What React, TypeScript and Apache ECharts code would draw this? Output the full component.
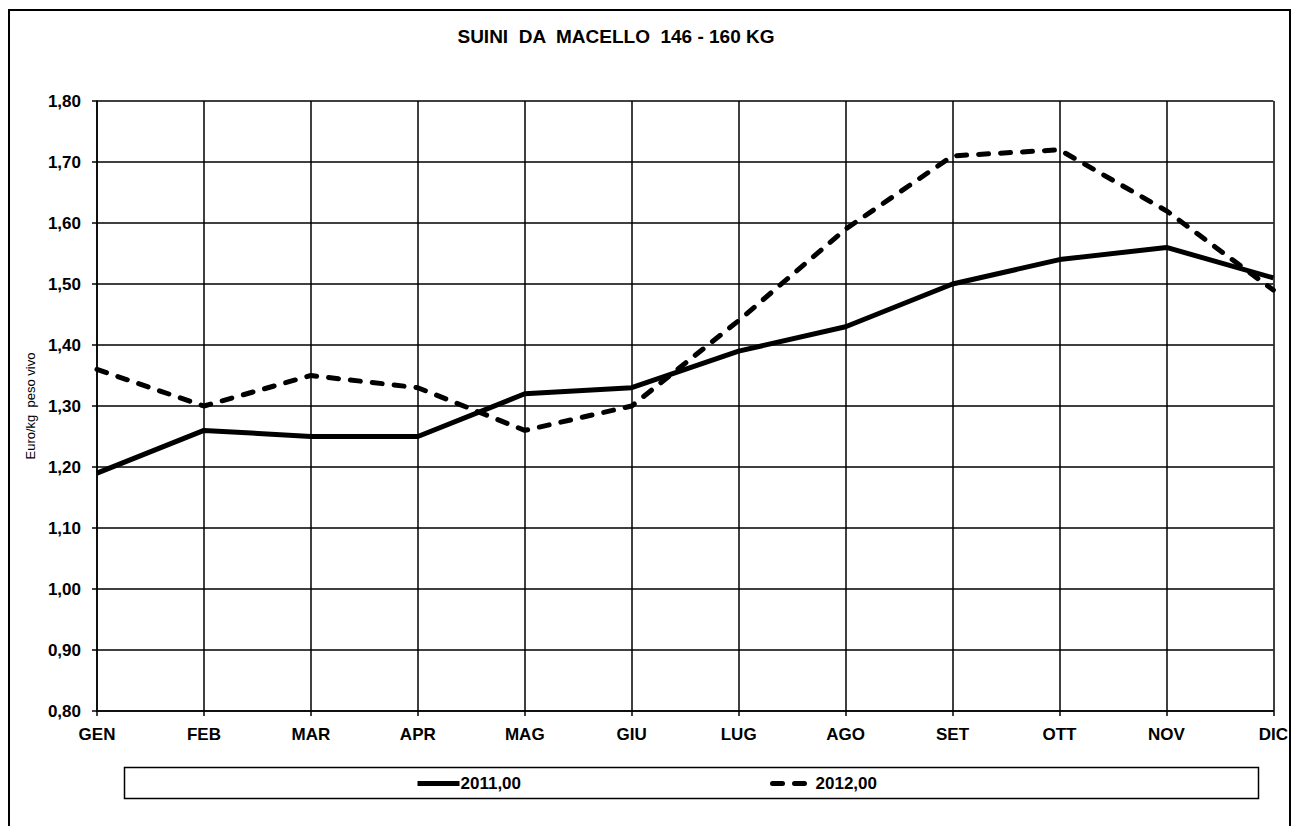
import React, { useEffect, useRef } from "react";
import * as echarts from "echarts";

const months = ["GEN", "FEB", "MAR", "APR", "MAG", "GIU", "LUG", "AGO", "SET", "OTT", "NOV", "DIC"];
const values2011 = [1.19, 1.26, 1.25, 1.25, 1.32, 1.33, 1.39, 1.43, 1.5, 1.54, 1.56, 1.51];
const values2012 = [1.36, 1.3, 1.35, 1.33, 1.26, 1.3, 1.44, 1.59, 1.71, 1.72, 1.62, 1.49];
const seriesNames = ["2011,00", "2012,00"];
const titleText = "SUINI  DA  MACELLO  146 - 160 KG";
const yAxisName = "Euro/kg  peso vivo";

const FONT = "Arial, 'Liberation Sans', sans-serif";

export default function App() {
  const ref = useRef<HTMLDivElement>(null);
  useEffect(() => {
    if (!ref.current) return;
    const chart = echarts.init(ref.current, undefined, { renderer: "svg" });
    chart.setOption({
      animation: false,
      backgroundColor: "#ffffff",
      textStyle: { fontFamily: FONT, color: "#000" },
      title: {
        text: titleText,
        left: 611,
        top: 22,
        textAlign: "center",
        textStyle: { fontFamily: FONT, fontSize: 19, fontWeight: "bold", color: "#000" },
      },
      graphic: [
        {
          type: "rect",
          shape: { x: 9, y: 10, width: 1281, height: 830 },
          style: { fill: "none", stroke: "#000", lineWidth: 2 },
          silent: true,
        },
        {
          type: "rect",
          shape: { x: 124.5, y: 767.5, width: 1134, height: 31 },
          style: { fill: "none", stroke: "#000", lineWidth: 1.5 },
          silent: true,
        },
      ],
      legend: {
        left: 415,
        top: 775,
        padding: 0,
        itemWidth: 42,
        itemHeight: 16,
        itemGap: 249,
        itemStyle: { opacity: 0 },
        lineStyle: { width: 5 },
        textStyle: { fontFamily: FONT, fontSize: 17, fontWeight: "bold", color: "#000", padding: [0, 0, 0, -4] },
        data: seriesNames,
      },
      grid: { left: 97, top: 101, right: 16, bottom: 115, containLabel: false },
      xAxis: {
        type: "category",
        data: months,
        boundaryGap: false,
        axisLine: { lineStyle: { color: "#000", width: 1.5 } },
        axisTick: { show: true, length: 5, lineStyle: { color: "#000", width: 1.5 } },
        axisLabel: { fontFamily: FONT, fontSize: 17, fontWeight: "bold", color: "#000", margin: 15 },
        splitLine: { show: true, lineStyle: { color: "#000", width: 1.5 } },
      },
      yAxis: {
        type: "value",
        min: 0.8,
        max: 1.8,
        interval: 0.1,
        name: yAxisName,
        nameLocation: "middle",
        nameRotate: 90,
        nameGap: 60,
        nameTextStyle: { fontFamily: FONT, fontSize: 13, color: "#000" },
        axisLine: { show: true, lineStyle: { color: "#000", width: 1.5 } },
        axisTick: { show: true, length: 5, lineStyle: { color: "#000", width: 1.5 } },
        axisLabel: {
          fontFamily: FONT,
          fontSize: 17,
          fontWeight: "bold",
          color: "#000",
          margin: 16,
          formatter: (v: number) => v.toFixed(2).replace(".", ","),
        },
        splitLine: { show: true, lineStyle: { color: "#000", width: 1.5 } },
      },
      series: [
        {
          name: seriesNames[0],
          type: "line",
          data: values2011,
          symbol: "none",
          lineStyle: { color: "#000", width: 5, type: "solid" },
          itemStyle: { color: "#000" },
        },
        {
          name: seriesNames[1],
          type: "line",
          data: values2012,
          symbol: "none",
          lineStyle: { color: "#000", width: 5, type: [10, 12], cap: "round" },
          itemStyle: { color: "#000" },
        },
      ],
    });
    return () => chart.dispose();
  }, []);
  return (
    <div
      ref={ref}
      style={{ position: "fixed", left: 0, top: 0, width: 1291, height: 826, background: "#fff" }}
    />
  );
}
